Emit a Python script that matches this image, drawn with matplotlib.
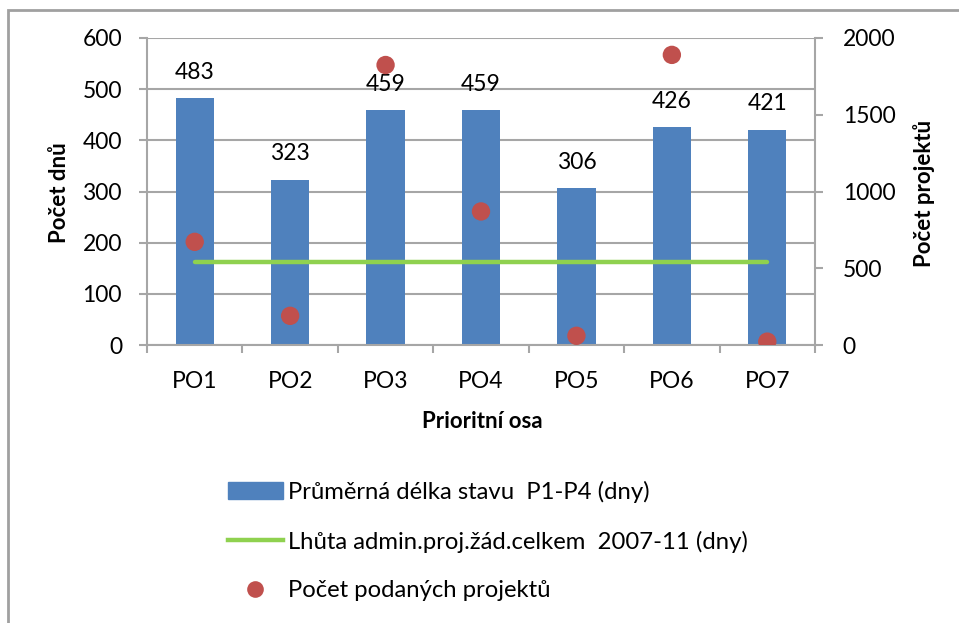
import matplotlib.pyplot as plt
import matplotlib.patches as patches
from matplotlib.lines import Line2D
import numpy as np

plt.rcParams['font.family'] = ['Lato', 'DejaVu Sans']

categories = ['PO1', 'PO2', 'PO3', 'PO4', 'PO5', 'PO6', 'PO7']
avg_days = [483, 323, 459, 459, 306, 426, 421]
limit_days = [162, 162, 162, 162, 162, 162, 162]
projects = [672, 190, 1824, 870, 60, 1890, 22]

blue = '#4F81BD'
green = '#8FD14F'
red = '#C0504D'
grid_gray = '#A6A6A6'
fs = 16.5

fig = plt.figure(figsize=(9.59, 6.23), dpi=100)

# outer frame of the chart
fig.patches.append(patches.Rectangle((8 / 959, -0.05), 1.2, 1 - 10 / 623 + 0.05,
                                     transform=fig.transFigure, fill=False,
                                     edgecolor='#A0A0A0', linewidth=2))

ax = fig.add_axes([147 / 959, 1 - 345 / 623, (815 - 147) / 959, (345 - 38) / 623])
x = np.arange(len(categories))

ax.bar(x, avg_days, width=0.4, color=blue, zorder=2)
ax.plot(x, limit_days, color=green, linewidth=3.2, solid_capstyle='round', zorder=3)
for xi, v in zip(x, avg_days):
    ax.annotate(str(v), (xi, v), xytext=(0, 11), textcoords='offset points',
                ha='center', va='bottom', fontsize=fs)

ax.set_xlim(-0.5, len(categories) - 0.5)
ax.set_ylim(0, 600)
ax.set_yticks(range(0, 601, 100))
ax.yaxis.grid(True, color=grid_gray, linewidth=1.5, zorder=0)
ax.set_xticks(x)
ax.set_xticklabels(categories, fontsize=fs)
ax.set_xticks(np.arange(-0.5, len(categories)), minor=True)
ax.tick_params(axis='x', which='major', length=0, pad=19)
ax.tick_params(axis='x', which='minor', length=6, width=1.5, color=grid_gray)
ax.tick_params(axis='y', length=6, width=1.5, color=grid_gray, labelsize=fs, pad=12)
for s in ['top', 'right']:
    ax.spines[s].set_visible(False)
for s in ['left', 'bottom']:
    ax.spines[s].set_color(grid_gray)
    ax.spines[s].set_linewidth(1.5)

ax2 = ax.twinx()
ax2.scatter(x, projects, s=175, color=red, zorder=4, edgecolors='none')
ax2.set_ylim(0, 2000)
ax2.set_yticks(range(0, 2001, 500))
ax2.tick_params(axis='y', length=6, width=1.5, color=grid_gray, labelsize=fs, pad=14)
for s in ['top', 'left', 'bottom']:
    ax2.spines[s].set_visible(False)
ax2.spines['right'].set_color(grid_gray)
ax2.spines['right'].set_linewidth(1.5)

# axis titles
fig.text(59 / 959, 1 - 193 / 623, 'Počet dnů', rotation=90, ha='center', va='center',
         fontsize=16, fontweight='bold')
fig.text(924 / 959, 1 - 193 / 623, 'Počet projektů', rotation=90, ha='center', va='center',
         fontsize=16, fontweight='bold')
fig.text(482 / 959, 1 - 421 / 623, 'Prioritní osa', ha='center', va='center',
         fontsize=16, fontweight='bold')

handles = [
    patches.Patch(color=blue),
    Line2D([0], [0], color=green, linewidth=3.2),
    Line2D([0], [0], marker='o', color='none', markerfacecolor=red,
           markeredgecolor='none', markersize=12),
]
labels = ['Průměrná délka stavu  P1-P4 (dny)',
          'Lhůta admin.proj.žád.celkem  2007-11 (dny)',
          'Počet podaných projektů']
fig.legend(handles, labels, loc='upper left', bbox_to_anchor=(228 / 959, 1 - 481 / 623),
           frameon=False, fontsize=17.2, labelspacing=1.15, handlelength=2.3,
           handletextpad=0.2, borderpad=0, borderaxespad=0)

fig.savefig('out.png', dpi=100)
